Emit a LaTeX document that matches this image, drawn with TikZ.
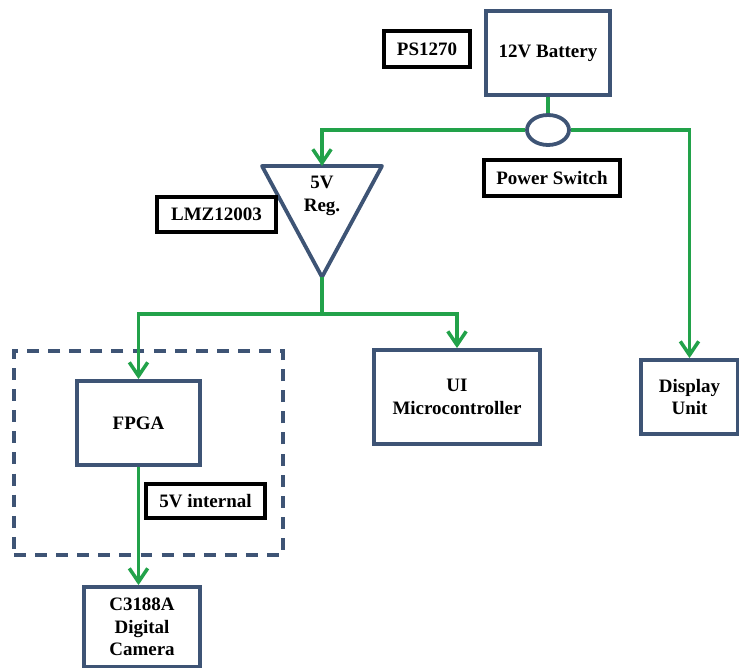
\documentclass[tikz,border=0pt]{standalone}
\usepackage{fontspec}
\setmainfont{Liberation Serif}
\usetikzlibrary{shapes.geometric,arrows.meta,positioning,calc}
\definecolor{boxblue}{RGB}{62,84,117}
\definecolor{wiregreen}{RGB}{34,162,74}
\tikzset{
  unit/.style={draw=boxblue,line width=2.7pt,fill=white,align=center,
    font=\fontsize{13.5}{16}\selectfont\bfseries},
  wire/.style={draw=wiregreen,line width=2.2pt},
  feed/.style={wire,-{Straight Barb[length=3.4mm,width=4.6mm,line width=2.5pt]}},
  partlabel/.style={draw=black,line width=2.5pt,fill=white,align=center,
    font=\fontsize{13.5}{16}\selectfont\bfseries}
}
\begin{document}
\begin{tikzpicture}[x=0.025cm,y=-0.025cm,
  switchnode/.style={ellipse,draw=boxblue,line width=2.7pt,fill=white,
    minimum width=1.05cm,minimum height=0.75cm,inner sep=0pt},
  groupbox/.style={draw=boxblue,line width=2.8pt,dash pattern=on 8.5pt off 6.5pt}
]
  \useasboundingbox (0,0) rectangle (739,668);
  % outer dashed group round the FPGA
  \node[groupbox,minimum width=6.725cm,minimum height=5.1cm] (fpgagroup) at (148.5,453) {};
  % supply side
  \node[unit,minimum width=3.1cm,minimum height=2.1cm] (battery) at (548,53) {12V Battery};
  \node[partlabel,minimum width=2.15cm,minimum height=0.9cm] (ps) at (427,49) {PS1270};
  \node[switchnode] (switch) at (548,130) {};
  \node[partlabel,minimum width=3.4cm,minimum height=0.9cm] (swlabel) at (552,178) {Power Switch};
  % regulator
  \coordinate (regtop) at (322,166);
  \coordinate (regtip) at (322,277);
  \draw[draw=boxblue,line width=2.7pt,line join=round,fill=white] (262,166) -- (382,166) -- (regtip) -- cycle;
  \node[font=\fontsize{13.5}{16}\selectfont\bfseries,align=center] (reg) at (322,196) {5V\\Reg.};
  \node[partlabel,minimum width=2.975cm,minimum height=0.875cm] (lmz) at (216.5,214.5) {LMZ12003};
  \coordinate (split) at (322,314);
  % loads
  \node[unit,minimum width=3.075cm,minimum height=2.1cm] (fpga) at (138.5,423) {FPGA};
  \node[unit,minimum width=4.15cm,minimum height=2.35cm] (ui) at (457,397) {UI\\Microcontroller};
  \node[unit,minimum width=2.425cm,minimum height=1.85cm] (display) at (689.5,397) {Display\\Unit};
  \node[unit,minimum width=2.9cm,minimum height=2cm] (camera) at (142,627) {C3188A\\Digital\\Camera};
  \node[partlabel,minimum width=2.975cm,minimum height=0.85cm] (internal) at (205.5,501) {5V internal};
  % wiring
  \draw[wire] (battery.south) -- (switch.north);
  \draw[feed] (switch.west) -| (regtop);
  \draw[feed] (switch.east) -| (display.north);
  \draw[wire] (regtip) -- (split);
  \draw[feed] (split) -| (fpga.north);
  \draw[feed] (split) -| (ui.north);
  \draw[feed] (fpga.south) -- (fpga.south |- camera.north);
\end{tikzpicture}
\end{document}
